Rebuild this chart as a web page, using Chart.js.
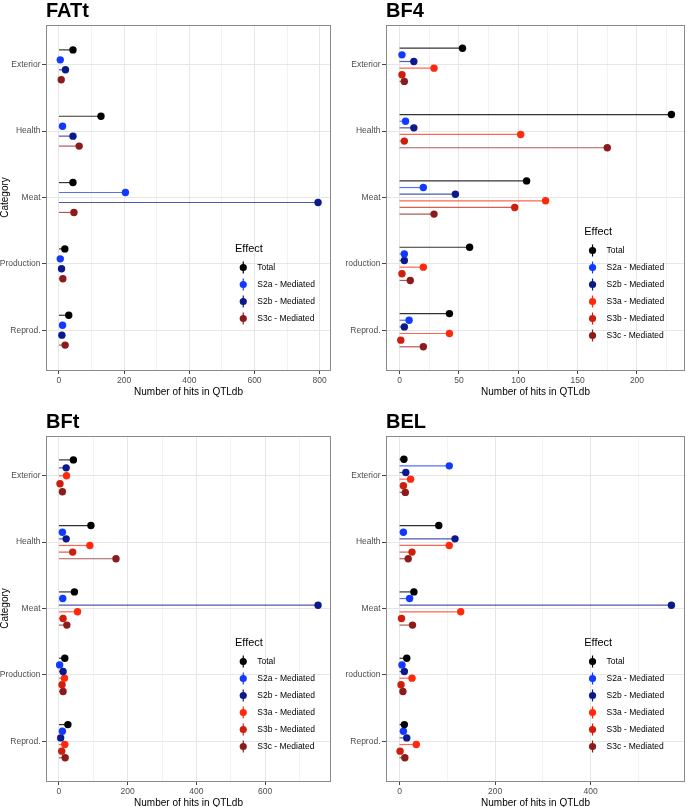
<!DOCTYPE html>
<html>
<head>
<meta charset="utf-8">
<script src="https://cdn.jsdelivr.net/npm/chart.js@4.4.0/dist/chart.umd.min.js"></script>
<style>
html, body { margin: 0; padding: 0; background: #fff; overflow: hidden; }
#wrap { position: relative; width: 689px; height: 807px; overflow: hidden; }
canvas { position: absolute; }
</style>
</head>
<body>
<div id="wrap">
  <canvas id="fatt" width="345" height="400" style="left:0;top:0"></canvas>
  <canvas id="bf4" width="344" height="400" style="left:345px;top:0"></canvas>
  <canvas id="bft" width="345" height="400" style="left:0;top:411px"></canvas>
  <canvas id="bel" width="344" height="400" style="left:345px;top:411px"></canvas>
</div>
<script>
// categories (top to bottom) and effects
const categories = ["Exterior", "Health", "Meat", "Production", "Reprod."];
const effects = ["Total", "S2a - Mediated", "S2b - Mediated", "S3a - Mediated", "S3b - Mediated", "S3c - Mediated"];
const effectColors = ["#000000", "#1239ff", "#0a1a8a", "#ff2a0c", "#cf1e0c", "#8c1c1c"];

// FATt (no S3a / S3b)
const fattTotal = [43, 129, 43, 18, 30];
const fattS2a   = [4, 11, 204, 4, 11];
const fattS2b   = [20, 43, 795, 8, 9];
const fattS3c   = [7, 62, 46, 12, 19];

// BF4
const bf4Total = [53, 229, 107, 59, 42];
const bf4S2a   = [2, 5, 20, 4, 8];
const bf4S2b   = [12, 12, 47, 4, 4];
const bf4S3a   = [29, 102, 123, 20, 42];
const bf4S3b   = [2, 4, 97, 2, 1];
const bf4S3c   = [4, 175, 29, 9, 20];

// BFt (no S2a hit for Exterior)
const bftTotal = [42, 93, 45, 17, 26];
const bftS2a   = [null, 10, 11, 2, 10];
const bftS2b   = [21, 21, 754, 12, 5];
const bftS3a   = [22, 90, 54, 16, 17];
const bftS3b   = [3, 40, 12, 9, 8];
const bftS3c   = [10, 166, 23, 12, 18];

// BEL
const belTotal = [9, 82, 30, 15, 10];
const belS2a   = [104, 8, 21, 5, 8];
const belS2b   = [13, 116, 569, 10, 15];
const belS3a   = [23, 104, 128, 26, 35];
const belS3b   = [8, 26, 4, 3, 1];
const belS3c   = [12, 18, 27, 7, 11];

Chart.defaults.font.family = "'Liberation Sans', Arial, sans-serif";

function alpha(hex, a) {
  const n = parseInt(hex.slice(1), 16);
  return `rgba(${n >> 16},${(n >> 8) & 255},${n & 255},${a})`;
}

// dodge points within each category like position_dodge (only present series)
function dodge(seriesVals) {
  return seriesVals.map((vals, si) => vals.map((v, ci) => {
    if (v == null) return null;
    const present = seriesVals.filter(s => s[ci] != null).length;
    const rank = seriesVals.slice(0, si).filter(s => s[ci] != null).length;
    return { x: v, y: ci + 1 - 0.3 + (rank + 0.5) * 0.6 / present };
  }).filter(p => p));
}

const stems = {
  id: "stems",
  beforeDatasetsDraw(chart) {
    const ctx = chart.ctx, a = chart.chartArea;
    const x0 = chart.scales.x.getPixelForValue(0);
    ctx.save();
    ctx.beginPath(); ctx.rect(a.left, a.top, a.width, a.height); ctx.clip();
    chart.data.datasets.forEach((ds, i) => {
      ctx.strokeStyle = ds.stemColor;
      ctx.lineWidth = 1.2;
      chart.getDatasetMeta(i).data.forEach(pt => {
        ctx.beginPath(); ctx.moveTo(x0, pt.y); ctx.lineTo(pt.x, pt.y); ctx.stroke();
      });
    });
    ctx.restore();
  }
};

const decor = {
  id: "decor",
  afterDraw(chart, args, opts) {
    const ctx = chart.ctx, a = chart.chartArea;
    ctx.save();
    // panel border
    ctx.strokeStyle = "#8a8a8a"; ctx.lineWidth = 1;
    ctx.strokeRect(Math.round(a.left) + 0.5, Math.round(a.top) + 0.5, Math.round(a.width) - 1, Math.round(a.height));
    // title
    ctx.fillStyle = "#000";
    ctx.font = "bold 20px 'Liberation Sans', Arial, sans-serif";
    ctx.textBaseline = "alphabetic"; ctx.textAlign = "left";
    ctx.fillText(opts.title, a.left, 17);
    // legend
    const n = opts.names.length, step = 17;
    const lx = a.left + 0.663 * a.width;
    const cy = a.top + 0.75 * a.height;
    const ty = cy - (18.5 + (n - 1) * step) / 2;
    ctx.textBaseline = "middle";
    ctx.font = "11px 'Liberation Sans', Arial, sans-serif";
    ctx.fillText("Effect", lx, ty);
    ctx.font = "8.5px 'Liberation Sans', Arial, sans-serif";
    opts.names.forEach((name, k) => {
      const y = ty + 18.5 + k * step, col = opts.colors[k];
      ctx.strokeStyle = col; ctx.lineWidth = 1.2;
      ctx.beginPath(); ctx.moveTo(lx + 8.3, y - 6); ctx.lineTo(lx + 8.3, y + 6); ctx.stroke();
      ctx.fillStyle = col;
      ctx.beginPath(); ctx.arc(lx + 8.3, y, 3.6, 0, Math.PI * 2); ctx.fill();
      ctx.fillStyle = "#000";
      ctx.fillText(name, lx + 22.3, y);
    });
    ctx.restore();
  }
};

function makePanel(id, title, effIdx, seriesVals, step, leftPanel) {
  const pts = dodge(seriesVals);
  const maxVal = Math.max(...seriesVals.flat().filter(v => v != null));
  const xMin = -0.05 * maxVal, xMax = 1.05 * maxVal;
  const cv = document.getElementById(id);
  const datasets = effIdx.map((e, i) => ({
    label: effects[e],
    data: pts[i],
    backgroundColor: effectColors[e],
    borderWidth: 0,
    pointRadius: 3.7,
    stemColor: alpha(effectColors[e], e === 0 ? 0.8 : 0.72)
  }));
  return new Chart(cv, {
    type: "scatter",
    data: { datasets },
    plugins: [stems, decor],
    options: {
      responsive: false,
      animation: false,
      devicePixelRatio: 1,
      events: [],
      layout: { padding: { left: 0, top: 25, right: leftPanel ? 14 : 3, bottom: 0 } },
      plugins: {
        legend: { display: false },
        tooltip: { enabled: false },
        decor: { title, names: effIdx.map(e => effects[e]), colors: effIdx.map(e => effectColors[e]) }
      },
      scales: {
        x: {
          type: "linear", min: xMin, max: xMax,
          afterBuildTicks: ax => {
            const t = [];
            for (let v = 0; v <= xMax; v += step / 2) t.push({ value: v });
            ax.ticks = t;
          },
          afterFit: s => { s.height = 30; },
          ticks: {
            autoSkip: false, maxRotation: 0, padding: 1.5,
            color: "#4d4d4d", font: { size: 8.5 },
            callback: v => (v % step === 0 ? String(v) : "")
          },
          grid: {
            color: c => (c.tick && c.tick.value % step === 0 ? "#e6e6e6" : "#f3f3f3"),
            tickColor: c => (c.tick && c.tick.value % step === 0 ? "#444" : "rgba(0,0,0,0)"),
            tickLength: 4, lineWidth: 1
          },
          border: { display: false },
          title: {
            display: true, text: "Number of hits in QTLdb", color: "#000",
            font: { size: 10 }, padding: { top: 0, bottom: 1.5 }
          }
        },
        y: {
          type: "linear", reverse: true, min: 0.4, max: 5.6,
          afterBuildTicks: ax => { ax.ticks = categories.map((c, i) => ({ value: i + 1 })); },
          afterFit: s => { s.width = leftPanel ? 46 : 41; },
          ticks: {
            autoSkip: false, padding: 1.5,
            color: "#4d4d4d", font: { size: 8.5 },
            callback: v => categories[v - 1] || ""
          },
          grid: { color: "#e6e6e6", tickColor: "#444", tickLength: 4, lineWidth: 1 },
          border: { display: false },
          title: {
            display: leftPanel, text: "Category", color: "#000",
            font: { size: 10, lineHeight: 1 }, padding: { top: 0, bottom: 0 }
          }
        }
      }
    }
  });
}

makePanel("fatt", "FATt", [0, 1, 2, 5], [fattTotal, fattS2a, fattS2b, fattS3c], 200, true);
makePanel("bf4", "BF4", [0, 1, 2, 3, 4, 5], [bf4Total, bf4S2a, bf4S2b, bf4S3a, bf4S3b, bf4S3c], 50, false);
makePanel("bft", "BFt", [0, 1, 2, 3, 4, 5], [bftTotal, bftS2a, bftS2b, bftS3a, bftS3b, bftS3c], 200, true);
makePanel("bel", "BEL", [0, 1, 2, 3, 4, 5], [belTotal, belS2a, belS2b, belS3a, belS3b, belS3c], 200, false);
</script>
</body>
</html>
